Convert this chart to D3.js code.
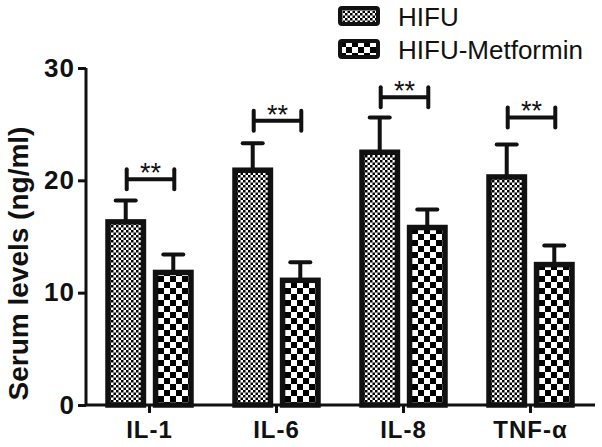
<!DOCTYPE html>
<html>
<head>
<meta charset="utf-8">
<script src="https://cdn.jsdelivr.net/npm/d3@7"></script>
<style>
  body { margin: 0; background: #fff; }
  svg { display: block; font-family: "Liberation Sans", Arial, sans-serif; }
</style>
</head>
<body>
<script>
// values
const categories = ["IL-1", "IL-6", "IL-8", "TNF-\u03b1"];
const groups = ["HIFU", "HIFU-Metformin"];
const hifu = [16.3, 20.9, 22.5, 20.3];
const hifuErr = [1.9, 2.4, 3.1, 2.9];
const metformin = [11.8, 11.1, 15.8, 12.5];
const metforminErr = [1.6, 1.6, 1.6, 1.7];
const sigLevel = [20.1, 25.3, 27.4, 25.6];
const yTicks = [0, 10, 20, 30];

const width = 602, height = 447;

const svg = d3.select('body').append('svg')
    .attr('width', width)
    .attr('height', height);

const x = d3.scaleBand()
    .domain(categories)
    .range([86, 594]);

const xInner = d3.scaleBand()
    .domain(groups)
    .range([22, 105])
    .paddingInner(0.255);

const y = d3.scaleLinear()
    .domain([0, 30])
    .range([405, 68]);

// fill patterns
const defs = svg.append('defs');
const fine = defs.append('pattern')
    .attr('id', 'pat-hifu')
    .attr('patternUnits', 'userSpaceOnUse')
    .attr('width', 5).attr('height', 5);
fine.append('rect').attr('width', 5).attr('height', 5).attr('fill', '#fff');
fine.append('rect').attr('width', 2.5).attr('height', 2.5).attr('fill', '#000');
fine.append('rect').attr('x', 2.5).attr('y', 2.5).attr('width', 2.5).attr('height', 2.5).attr('fill', '#000');

const coarse = defs.append('pattern')
    .attr('id', 'pat-met')
    .attr('patternUnits', 'userSpaceOnUse')
    .attr('width', 12).attr('height', 12);
coarse.append('rect').attr('width', 12).attr('height', 12).attr('fill', '#fff');
coarse.append('rect').attr('width', 6).attr('height', 6).attr('fill', '#000');
coarse.append('rect').attr('x', 6).attr('y', 6).attr('width', 6).attr('height', 6).attr('fill', '#000');

const fills = { "HIFU": 'url(#pat-hifu)', "HIFU-Metformin": 'url(#pat-met)' };

const rows = categories.map((c, i) => ({
    cat: c,
    bars: [
        { group: "HIFU", value: hifu[i], err: hifuErr[i] },
        { group: "HIFU-Metformin", value: metformin[i], err: metforminErr[i] }
    ],
    sig: sigLevel[i]
}));

const cat = svg.selectAll('g.cat')
    .data(rows)
    .enter().append('g')
    .attr('class', 'cat')
    .attr('transform', d => `translate(${x(d.cat)},0)`);

const bar = cat.selectAll('g.bar')
    .data(d => d.bars)
    .enter().append('g')
    .attr('class', 'bar');

// error bars (upper half only, drawn first so the bar covers the stem)
bar.append('line')
    .attr('x1', d => xInner(d.group) + xInner.bandwidth() / 2)
    .attr('x2', d => xInner(d.group) + xInner.bandwidth() / 2)
    .attr('y1', d => y(d.value))
    .attr('y2', d => y(d.value + d.err))
    .attr('stroke', '#111')
    .attr('stroke-width', 4);

bar.append('line')
    .attr('x1', d => xInner(d.group) + xInner.bandwidth() / 2 - 10)
    .attr('x2', d => xInner(d.group) + xInner.bandwidth() / 2 + 10)
    .attr('y1', d => y(d.value + d.err))
    .attr('y2', d => y(d.value + d.err))
    .attr('stroke', '#111')
    .attr('stroke-width', 4)
    .attr('stroke-linecap', 'round');

bar.append('rect')
    .attr('x', d => xInner(d.group))
    .attr('y', d => y(d.value))
    .attr('width', xInner.bandwidth())
    .attr('height', d => y(0) - y(d.value))
    .attr('fill', d => fills[d.group])
    .attr('stroke', '#111')
    .attr('stroke-width', 5.5);

// significance brackets
const sig = cat.append('g').attr('class', 'sig');
const cx0 = xInner("HIFU") + xInner.bandwidth() / 2 + 1;
const cx1 = xInner("HIFU-Metformin") + xInner.bandwidth() / 2 + 1;

sig.append('path')
    .attr('d', d => `M${cx0},${y(d.sig)}H${cx1}`)
    .attr('stroke', '#111').attr('stroke-width', 4).attr('fill', 'none');
sig.selectAll('line.end')
    .data(d => [cx0, cx1].map(v => ({ x: v, y: y(d.sig) })))
    .enter().append('line')
    .attr('class', 'end')
    .attr('x1', d => d.x).attr('x2', d => d.x)
    .attr('y1', d => d.y - 10).attr('y2', d => d.y + 10)
    .attr('stroke', '#111').attr('stroke-width', 4).attr('stroke-linecap', 'round');
sig.append('text')
    .attr('x', (cx0 + cx1) / 2)
    .attr('y', d => y(d.sig) + 3)
    .attr('text-anchor', 'middle')
    .style('font-size', '27px')
    .style('fill', '#111')
    .text('**');

// axes
const yAxis = svg.append('g')
    .attr('transform', 'translate(86,0)')
    .call(d3.axisLeft(y).tickValues(yTicks).tickSize(8).tickPadding(3));
yAxis.select('.domain').attr('stroke', '#111').attr('stroke-width', 3).attr('d', `M0,${y(30)}V${y(0)}`);
yAxis.selectAll('.tick line').attr('stroke', '#111').attr('stroke-width', 3);
yAxis.selectAll('.tick text')
    .attr('fill', '#111')
    .style('font-size', '26px')
    .style('font-weight', 'bold')
    .style('letter-spacing', '1px')
    .attr('font-family', null);

const xAxis = svg.append('g')
    .attr('transform', `translate(0,${y(0)})`)
    .call(d3.axisBottom(x).tickSize(8).tickPadding(8));
xAxis.select('.domain').attr('stroke', '#111').attr('stroke-width', 3).attr('d', 'M86,0H595');
xAxis.selectAll('.tick line').attr('stroke', '#111').attr('stroke-width', 3);
xAxis.selectAll('.tick text')
    .attr('fill', '#111')
    .style('font-size', '24px')
    .style('font-weight', 'bold')
    .style('letter-spacing', '1px')
    .attr('font-family', null);

svg.append('text')
    .attr('transform', `translate(28,${(y(0) + y(30)) / 2 + 27}) rotate(-90)`)
    .attr('text-anchor', 'middle')
    .style('font-size', '28px')
    .style('font-weight', 'bold')
    .style('fill', '#111')
    .text('Serum levels (ng/ml)');

// legend
const legend = svg.selectAll('g.legend')
    .data(groups)
    .enter().append('g')
    .attr('class', 'legend')
    .attr('transform', (d, i) => `translate(340,${8 + i * 33})`);
legend.append('rect')
    .attr('width', 38).attr('height', 16)
    .attr('rx', 2)
    .attr('fill', d => fills[d])
    .attr('stroke', '#111').attr('stroke-width', 4);
legend.append('text')
    .attr('x', 58).attr('y', 18)
    .style('font-size', '26px')
    .style('fill', '#111')
    .text(d => d);
</script>
</body>
</html>
